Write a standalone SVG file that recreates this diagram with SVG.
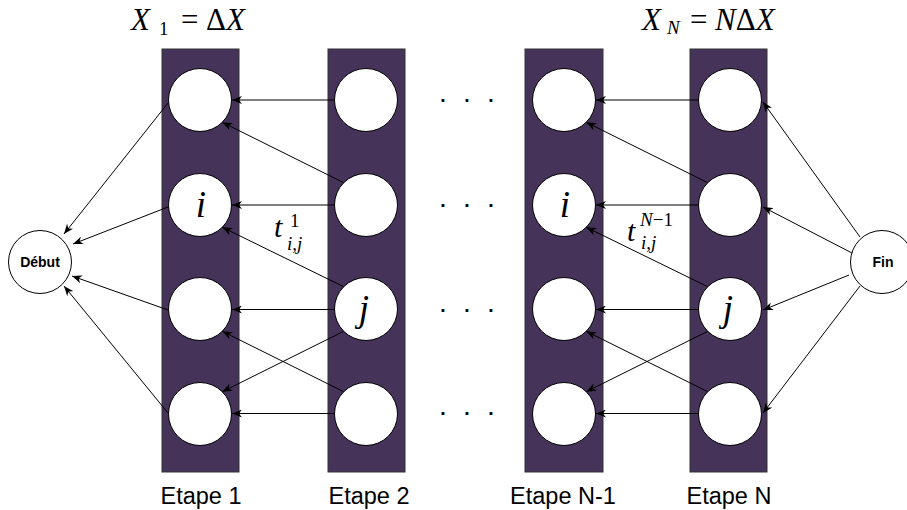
<svg xmlns="http://www.w3.org/2000/svg" width="907" height="510" viewBox="0 0 907 510">
<style>
.col{fill:#46335a;stroke:#333;stroke-width:1}
.nd{fill:#fff;stroke:#000;stroke-width:1}
.e{fill:none;stroke:#000;stroke-width:1;marker-end:url(#ah)}
.lbl{font-family:"Liberation Sans",Arial,sans-serif;font-size:23.5px;fill:#000;text-anchor:middle}
.bold{font-family:"Liberation Sans",Arial,sans-serif;font-size:14px;font-weight:bold;fill:#000;text-anchor:middle}
.m{font-family:"Liberation Serif","Times New Roman",serif;fill:#000}
.it{font-style:italic}
.dot{font-family:"Liberation Sans",Arial,sans-serif;font-size:28px;fill:#000}
.sub{font-size:19px}
</style>
<defs>
<marker id="ah" viewBox="0 0 10 8" refX="10" refY="4" markerWidth="10" markerHeight="8" orient="auto" markerUnits="userSpaceOnUse">
<path d="M0,0 L10,4 L0,8 L3,4 Z" fill="#000"/>
</marker>
</defs>
<rect width="907" height="510" fill="#fff"/>

<g id="stage1">
<rect class="col" x="162" y="49" width="77" height="423"/>
<circle class="nd" cx="200" cy="100" r="31.5"/>
<circle class="nd" cx="200" cy="205" r="31.5"/>
<circle class="nd" cx="200" cy="309" r="31.5"/>
<circle class="nd" cx="200" cy="414" r="31.5"/>
<text class="m it" x="201" y="217" font-size="37" text-anchor="middle">i</text>
</g>
<g id="stage2">
<rect class="col" x="328" y="49" width="77" height="423"/>
<circle class="nd" cx="366" cy="100" r="31.5"/>
<circle class="nd" cx="366" cy="205" r="31.5"/>
<circle class="nd" cx="366" cy="309" r="31.5"/>
<circle class="nd" cx="366" cy="414" r="31.5"/>
<text class="m it" x="364" y="321" font-size="37" text-anchor="middle">j</text>
</g>
<g id="stageN-1">
<rect class="col" x="525" y="49" width="78" height="423"/>
<circle class="nd" cx="564" cy="100" r="31.5"/>
<circle class="nd" cx="564" cy="205" r="31.5"/>
<circle class="nd" cx="564" cy="309" r="31.5"/>
<circle class="nd" cx="564" cy="414" r="31.5"/>
<text class="m it" x="565" y="217" font-size="37" text-anchor="middle">i</text>
</g>
<g id="stageN">
<rect class="col" x="690" y="49" width="77" height="423"/>
<circle class="nd" cx="730" cy="100" r="31.5"/>
<circle class="nd" cx="730" cy="205" r="31.5"/>
<circle class="nd" cx="730" cy="309" r="31.5"/>
<circle class="nd" cx="730" cy="414" r="31.5"/>
<text class="m it" x="728" y="321" font-size="37" text-anchor="middle">j</text>
</g>
<g id="debut">
<circle class="nd" cx="40" cy="262" r="31.5"/>
<text class="bold" x="40" y="267">Début</text>
</g>
<g id="fin">
<circle class="nd" cx="882" cy="262" r="31.5"/>
<text class="bold" x="883" y="267">Fin</text>
</g>

<g id="connectors">
<path class="e" d="M334,100 H232"/>
<path class="e" d="M334,205 H232"/>
<path class="e" d="M334,309.5 H232"/>
<path class="e" d="M334,413.5 H232"/>
<path class="e" d="M343.7,182.7 L222.3,122.3"/>
<path class="e" d="M343.7,286.7 L222.3,227.3"/>
<path class="e" d="M343.7,331.3 L222.3,391.7"/>
<path class="e" d="M343.7,391.7 L222.3,331.3"/>

<path class="e" d="M698,100 H596"/>
<path class="e" d="M698,205 H596"/>
<path class="e" d="M698,309.5 H596"/>
<path class="e" d="M698,413.5 H596"/>
<path class="e" d="M707.7,182.7 L586.3,122.3"/>
<path class="e" d="M707.7,286.7 L586.3,227.3"/>
<path class="e" d="M707.7,331.3 L586.3,391.7"/>
<path class="e" d="M707.7,391.7 L586.3,331.3"/>

<path class="e" d="M168,103 L64,234"/>
<path class="e" d="M168,207 L73,244"/>
<path class="e" d="M168,310 L72,276"/>
<path class="e" d="M168,413 L64,286"/>

<path class="e" d="M860,237 L763,102"/>
<path class="e" d="M852,253 L763,207"/>
<path class="e" d="M849,275 L763,310"/>
<path class="e" d="M860,286 L763,413"/>
</g>

<g id="dots">
<text class="dot" x="439.1 463.1 487.1" y="101.5">...</text>
<text class="dot" x="439.1 463.1 487.1" y="206.5">...</text>
<text class="dot" x="439.1 463.1 487.1" y="311.5">...</text>
<text class="dot" x="439.1 463.1 487.1" y="414.5">...</text>
</g>

<g id="labels">
<text class="m" font-size="31" y="30"><tspan class="it" x="131">X</tspan><tspan class="sub" x="159" y="35">1</tspan><tspan x="181" y="30">=</tspan><tspan x="206">Δ</tspan><tspan class="it">X</tspan></text>
<text class="m" font-size="31" y="30"><tspan class="it" x="642">X</tspan><tspan class="it sub" x="667" y="34">N</tspan><tspan x="690" y="30">=</tspan><tspan class="it" x="715">N</tspan><tspan>Δ</tspan><tspan class="it">X</tspan></text>
<text class="m" font-size="30"><tspan class="it" x="274" y="237">t</tspan><tspan class="sub" x="290" y="227">1</tspan><tspan class="it sub" x="287" y="250">i,j</tspan></text>
<text class="m" font-size="30"><tspan class="it" x="627" y="241">t</tspan><tspan class="it sub" x="640" y="226">N</tspan><tspan class="sub">−1</tspan><tspan class="it sub" x="641" y="249">i,j</tspan></text>
<text class="lbl" x="201" y="504">Etape 1</text>
<text class="lbl" x="369" y="504">Etape 2</text>
<text class="lbl" x="563" y="504">Etape N-1</text>
<text class="lbl" x="729" y="504">Etape N</text>
</g>
</svg>
